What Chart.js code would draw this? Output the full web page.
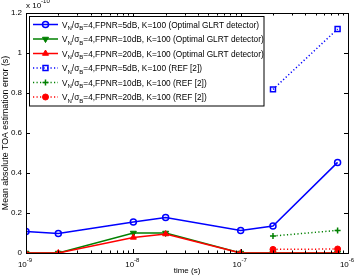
<!DOCTYPE html>
<html>
<head>
<meta charset="utf-8">
<script src="https://cdn.jsdelivr.net/npm/chart.js@4/dist/chart.umd.min.js"></script>
<style>
  html, body { margin: 0; padding: 0; background: #fff; }
  #wrap { width: 357px; height: 277px; }
</style>
</head>
<body>
<div id="wrap"><canvas id="toaChart"></canvas></div>
<script>
// time instants (s)
const times = [1e-9, 2e-9, 1e-8, 2e-8, 1e-7, 2e-7, 8e-7];

// mean absolute TOA error, in units of 1e-10 s
const glrt5dB  = [0.107, 0.097, 0.155, 0.177, 0.112, 0.135, 0.453];
const glrt10dB = [0, 0, 0.100, 0.100, 0, 0, 0];
const glrt20dB = [0, 0, 0.078, 0.095, 0, 0, 0];
const ref5dB   = [null, null, null, null, null, 0.818, 1.12];
const ref10dB  = [null, null, null, null, null, 0.085, 0.113];
const ref20dB  = [null, null, null, null, null, 0.018, 0.020];

const legendTails = [
  "=4,FPNR=5dB, K=100 (Optimal GLRT detector)",
  "=4,FPNR=10dB, K=100 (Optimal GLRT detector)",
  "=4,FPNR=20dB, K=100 (Optimal GLRT detector)",
  "=4,FPNR=5dB, K=100 (REF [2])",
  "=4,FPNR=10dB, K=100 (REF [2])",
  "=4,FPNR=20dB, K=100 (REF [2])"
];

const xTicks = [1e-9, 1e-8, 1e-7, 1e-6];
const xTickExp = ["-9", "-8", "-7", "-6"];
const yTicks = [0, 0.2, 0.4, 0.6, 0.8, 1, 1.2];
const multBase = "x 10", multExp = "-10";

const FONT = "'Liberation Sans', Arial, Helvetica, sans-serif";
const BLUE = "#0000ff", GREEN = "#008000", RED = "#ff0000";

function pts(vals) {
  return vals.map((v, i) => ({ x: times[i], y: v }));
}

const datasets = [
  { data: pts(glrt5dB), borderColor: BLUE, borderWidth: 1.5, pointStyle: "circle", pointRadius: 3,
    pointBackgroundColor: "rgba(0,0,0,0)", pointBorderColor: BLUE, pointBorderWidth: 1.5, order: 5 },
  { data: pts(glrt10dB), borderColor: GREEN, borderWidth: 1.5, pointStyle: "triangle", pointRotation: 180, pointRadius: 3.5,
    pointBackgroundColor: GREEN, pointBorderColor: GREEN, pointBorderWidth: 1, order: 4 },
  { data: pts(glrt20dB), borderColor: RED, borderWidth: 1.5, pointStyle: "triangle", pointRadius: 3.5,
    pointBackgroundColor: RED, pointBorderColor: RED, pointBorderWidth: 1, order: 1 },
  { data: pts(ref5dB), borderColor: BLUE, borderWidth: 1.5, borderDash: [1.2, 2.3], pointStyle: "rect", pointRadius: 3.5,
    pointBackgroundColor: "rgba(0,0,0,0)", pointBorderColor: BLUE, pointBorderWidth: 1.5, order: 3 },
  { data: pts(ref10dB), borderColor: GREEN, borderWidth: 1.5, borderDash: [1.2, 2.3], pointStyle: "cross", pointRadius: 3,
    pointBackgroundColor: GREEN, pointBorderColor: GREEN, pointBorderWidth: 1.5, order: 2 },
  { data: pts(ref20dB), borderColor: RED, borderWidth: 1.5, borderDash: [1.2, 2.3], pointStyle: "circle", pointRadius: 3,
    pointBackgroundColor: RED, pointBorderColor: RED, pointBorderWidth: 1, order: 0 }
];

// draws base text with a raised exponent, starting at x0
function drawPower(ctx, base, exp, x0, y) {
  ctx.textAlign = "left";
  ctx.font = "8px " + FONT;
  ctx.fillText(base, x0, y);
  const wb = ctx.measureText(base).width;
  ctx.font = "6px " + FONT;
  ctx.fillText(exp, x0 + wb, y - 5);
}

function powerWidth(ctx, base, exp) {
  ctx.font = "8px " + FONT;
  const wb = ctx.measureText(base).width;
  ctx.font = "6px " + FONT;
  return wb + ctx.measureText(exp).width;
}

// axes box, inward ticks, x tick labels with exponents, multiplier, legend
const decorPlugin = {
  id: "decor",
  afterDraw(chart) {
    const ctx = chart.ctx;
    const a = chart.chartArea;
    const xs = chart.scales.x, ys = chart.scales.y;
    const left = Math.round(a.left), top = Math.round(a.top);
    ctx.save();
    ctx.textAlign = "left";
    ctx.textBaseline = "alphabetic";
    ctx.strokeStyle = "#000";
    ctx.lineWidth = 1;
    ctx.strokeRect(left + 0.5, top + 0.5,
      Math.round(a.right - a.left), Math.round(a.bottom - a.top));

    ctx.beginPath();
    // y ticks
    yTicks.forEach(v => {
      const y = Math.round(ys.getPixelForValue(v)) + 0.5;
      ctx.moveTo(a.left, y); ctx.lineTo(a.left + 4, y);
      ctx.moveTo(a.right, y); ctx.lineTo(a.right - 4, y);
    });
    // x ticks: major and minor
    for (let e = -9; e < -6; e++) {
      for (let m = 1; m <= 9; m++) {
        const v = m * Math.pow(10, e);
        const x = Math.round(xs.getPixelForValue(v)) + 0.5;
        const len = m === 1 ? 4 : 2.5;
        ctx.moveTo(x, a.bottom); ctx.lineTo(x, a.bottom - len);
        ctx.moveTo(x, a.top); ctx.lineTo(x, a.top + len);
      }
    }
    ctx.stroke();

    // x tick labels 10^n
    ctx.fillStyle = "#000";
    xTicks.forEach((v, i) => {
      const x = xs.getPixelForValue(v);
      const w = powerWidth(ctx, "10", xTickExp[i]);
      drawPower(ctx, "10", xTickExp[i], x - w / 2 - 1, a.bottom + 14);
    });

    // multiplier above the top-left corner
    drawPower(ctx, multBase, multExp, left, 8);

    // legend
    const lx = 29.5, ly = 16.5, lw = 234.5, lh = 89.5;
    ctx.fillStyle = "#fff";
    ctx.fillRect(lx, ly, lw, lh);
    ctx.strokeStyle = "#000";
    ctx.lineWidth = 1;
    ctx.strokeRect(lx, ly, lw, lh);
    datasets.forEach((ds, i) => {
      const yy = 24.5 + i * 14.5;
      ctx.save();
      ctx.strokeStyle = ds.borderColor;
      ctx.lineWidth = ds.borderWidth;
      ctx.setLineDash(ds.borderDash || []);
      ctx.beginPath();
      ctx.moveTo(33, yy); ctx.lineTo(58, yy);
      ctx.stroke();
      ctx.setLineDash([]);
      ctx.fillStyle = ds.pointBackgroundColor;
      ctx.strokeStyle = ds.pointBorderColor;
      ctx.lineWidth = ds.pointBorderWidth;
      Chart.helpers.drawPoint(ctx, {
        pointStyle: ds.pointStyle, rotation: ds.pointRotation || 0,
        radius: ds.pointRadius, borderWidth: ds.pointBorderWidth
      }, 45.5, yy);
      ctx.restore();

      ctx.fillStyle = "#000";
      ctx.textAlign = "left";
      let x = 62;
      const base = yy + 3;
      ctx.font = "8.3px " + FONT;
      ctx.fillText("V", x, base); x += ctx.measureText("V").width;
      ctx.font = "6px " + FONT;
      ctx.fillText("N", x, base + 2.5); x += ctx.measureText("N").width;
      ctx.font = "8.3px " + FONT;
      ctx.fillText("/\u03c3", x, base); x += ctx.measureText("/\u03c3").width;
      ctx.font = "6px " + FONT;
      ctx.fillText("B", x, base + 2.5); x += ctx.measureText("B").width;
      ctx.font = "8.3px " + FONT;
      ctx.fillText(legendTails[i], x, base);
    });
    ctx.restore();
  }
};

new Chart(document.getElementById("toaChart"), {
  type: "line",
  data: { datasets: datasets },
  options: {
    responsive: true,
    maintainAspectRatio: false,
    animation: false,
    spanGaps: false,
    layout: { padding: { top: 13, right: 9, left: 0, bottom: 0 } },
    plugins: { legend: { display: false }, tooltip: { enabled: false } },
    elements: { line: { tension: 0 } },
    scales: {
      x: {
        type: "logarithmic",
        min: 1e-9,
        max: 1e-6,
        grid: { display: false, drawTicks: false },
        border: { display: false },
        ticks: { display: false },
        title: { display: true, text: "time (s)", color: "#000",
          font: { family: FONT, size: 8 }, padding: { top: 0, bottom: 1 } },
        afterFit(s) { s.height = 24; }
      },
      y: {
        min: 0,
        max: 1.2,
        grid: { display: false, drawTicks: false },
        border: { display: false },
        afterBuildTicks(s) { s.ticks = yTicks.map(v => ({ value: v })); },
        ticks: { color: "#000", font: { family: FONT, size: 8 }, padding: 4,
          callback: v => String(+v.toFixed(1)) },
        title: { display: true, text: "Mean absolute TOA estimation error (s)", color: "#000",
          font: { family: FONT, size: 8.8 }, padding: { top: 0, bottom: 0 } },
        afterFit(s) { s.width = 26; }
      }
    }
  },
  plugins: [decorPlugin]
});
</script>
</body>
</html>
